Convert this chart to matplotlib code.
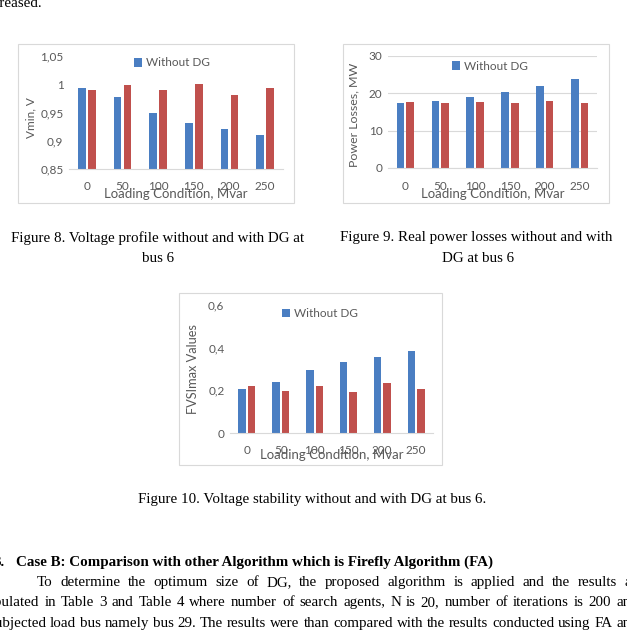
import matplotlib.pyplot as plt
from matplotlib.patches import Rectangle
import numpy as np

W, H = 627, 642

# data
loading = ['0', '50', '100', '150', '200', '250']

vmin_without = [0.994, 0.978, 0.950, 0.931, 0.921, 0.911]
vmin_with = [0.989, 0.998, 0.990, 1.000, 0.981, 0.994]
vmin_ticks = [0.85, 0.9, 0.95, 1.0, 1.05]
vmin_labels = ['0,85', '0,9', '0,95', '1', '1,05']

loss_without = [17.5, 17.9, 19.1, 20.4, 21.9, 23.9]
loss_with = [17.7, 17.5, 17.7, 17.5, 17.9, 17.5]
loss_ticks = [0, 10, 20, 30]
loss_labels = ['0', '10', '20', '30']

fvsi_without = [0.204, 0.240, 0.295, 0.331, 0.357, 0.386]
fvsi_with = [0.219, 0.196, 0.219, 0.191, 0.235, 0.204]
fvsi_ticks = [0, 0.2, 0.4, 0.6]
fvsi_labels = ['0', '0,2', '0,4', '0,6']

BLUE = '#4A7EC2'
RED = '#C0504D'
GRAY = '#595959'
CHART_FONT = 'Lato'
SERIF = 'Liberation Serif'
FS = 10.8

fig = plt.figure(figsize=(W / 100, H / 100), dpi=100)


def fx(x):
    return x / W


def fy(y):
    return 1 - y / H


def add_box(x0, y0, x1, y1):
    fig.patches.append(Rectangle((fx(x0), fy(y1)), fx(x1 - x0), (y1 - y0) / H,
                                 transform=fig.transFigure, fill=False,
                                 edgecolor='#D9D9D9', linewidth=0.8))


def bar_chart(area, without, with_dg, ticks, tick_labels, ylim, ylabel,
              ylab_pos, xlab_pos, leg_pos, grid=False, ylab_size=9.2):
    x0, y0, x1, y1 = area
    ax = fig.add_axes([fx(x0), fy(y1), fx(x1 - x0), (y1 - y0) / H])
    idx = np.arange(len(loading))
    b1 = ax.bar(idx - 0.14, without, width=0.22, color=BLUE, label='Without DG')
    ax.bar(idx + 0.14, with_dg, width=0.22, color=RED, label='With DG')
    ax.set_xlim(-0.5, len(loading) - 0.5)
    ax.set_ylim(*ylim)
    ax.set_yticks(ticks)
    ax.set_yticklabels(tick_labels)
    ax.set_xticks(idx)
    ax.set_xticklabels(loading)
    for s in ['top', 'right', 'left']:
        ax.spines[s].set_visible(False)
    ax.spines['bottom'].set_color('#D9D9D9')
    ax.tick_params(length=0, labelsize=8.5, colors=GRAY)
    ax.tick_params(axis='x', pad=9)
    ax.tick_params(axis='y', pad=4)
    for t in ax.get_xticklabels() + ax.get_yticklabels():
        t.set_fontfamily(CHART_FONT)
    if grid:
        ax.yaxis.grid(True, color='#D9D9D9', linewidth=0.8)
        ax.set_axisbelow(True)
    ax.legend(handles=[b1], loc='center', bbox_to_anchor=(fx(leg_pos[0]), fy(leg_pos[1])),
              bbox_transform=fig.transFigure, frameon=False, handlelength=0.7,
              handleheight=0.7, handletextpad=0.3,
              prop={'family': CHART_FONT, 'size': 8.5}, labelcolor=GRAY)
    fig.text(fx(ylab_pos[0]), fy(ylab_pos[1]), ylabel, rotation=90, ha='center',
             va='center', color=GRAY, fontsize=ylab_size, family=CHART_FONT)
    fig.text(fx(xlab_pos[0]), fy(xlab_pos[1]), 'Loading Condition, Mvar', ha='center',
             va='center', color=GRAY, fontsize=9.5, family=CHART_FONT)
    return ax


# Figure 8
add_box(18, 44, 294, 203)
bar_chart((69, 56, 283, 169), vmin_without, vmin_with, vmin_ticks, vmin_labels,
          (0.85, 1.05), 'Vmin, V', (31, 118), (176, 194), (172, 63), ylab_size=8.5)

# Figure 9
add_box(343, 44, 609, 203)
bar_chart((388, 56, 597, 168), loss_without, loss_with, loss_ticks, loss_labels,
          (0, 30), 'Power Losses, MW', (354, 115), (493, 194), (490, 66), grid=True,
          ylab_size=8.9)

# Figure 10
add_box(179, 293, 442, 465)
bar_chart((230, 305, 433, 433), fvsi_without, fvsi_with, fvsi_ticks, fvsi_labels,
          (0, 0.6), 'FVSImax Values', (193, 369), (332, 455), (320, 314))

# captions and page text
fig.text(fx(42), fy(7), 'increased.', ha='right', va='baseline', family=SERIF, fontsize=FS)
fig.text(fx(158), fy(238), 'Figure 8. Voltage profile without and with DG at', ha='center',
         va='center', family=SERIF, fontsize=FS)
fig.text(fx(158), fy(259), 'bus 6', ha='center', va='center', family=SERIF, fontsize=FS)
fig.text(fx(476), fy(238), 'Figure 9. Real power losses without and with', ha='center',
         va='center', family=SERIF, fontsize=FS)
fig.text(fx(478), fy(259), 'DG at bus 6', ha='center', va='center', family=SERIF, fontsize=FS)
fig.text(fx(312), fy(499), 'Figure 10. Voltage stability without and with DG at bus 6.',
         ha='center', va='center', family=SERIF, fontsize=FS)

fig.text(fx(5), fy(566), '3.', ha='right', va='baseline', family=SERIF, fontsize=FS,
         fontweight='bold')
fig.text(fx(16), fy(566), 'Case B: Comparison with other Algorithm which is Firefly Algorithm (FA)',
         ha='left', va='baseline', family=SERIF, fontsize=FS, fontweight='bold')

renderer = fig.canvas.get_renderer()


def justify(text, x_start, x_end, y):
    words = text.split()
    arts = [fig.text(0, fy(y), w, ha='left', va='baseline', family=SERIF, fontsize=FS)
            for w in words]
    widths = [a.get_window_extent(renderer).width for a in arts]
    gap = (x_end - x_start - sum(widths)) / (len(words) - 1)
    x = x_start
    for a, w in zip(arts, widths):
        a.set_x(fx(x))
        x += w + gap


justify('To determine the optimum size of DG, the proposed algorithm is applied and the results are',
        37, 643, 586)
justify('tabulated in Table 3 and Table 4 where number of search agents, N is 20, number of iterations is 200 and',
        -16, 638, 606)
justify('subjected load bus namely bus 29. The results were than compared with the results conducted using FA and',
        -11, 638, 627)

fig.savefig('out.png', dpi=100)
